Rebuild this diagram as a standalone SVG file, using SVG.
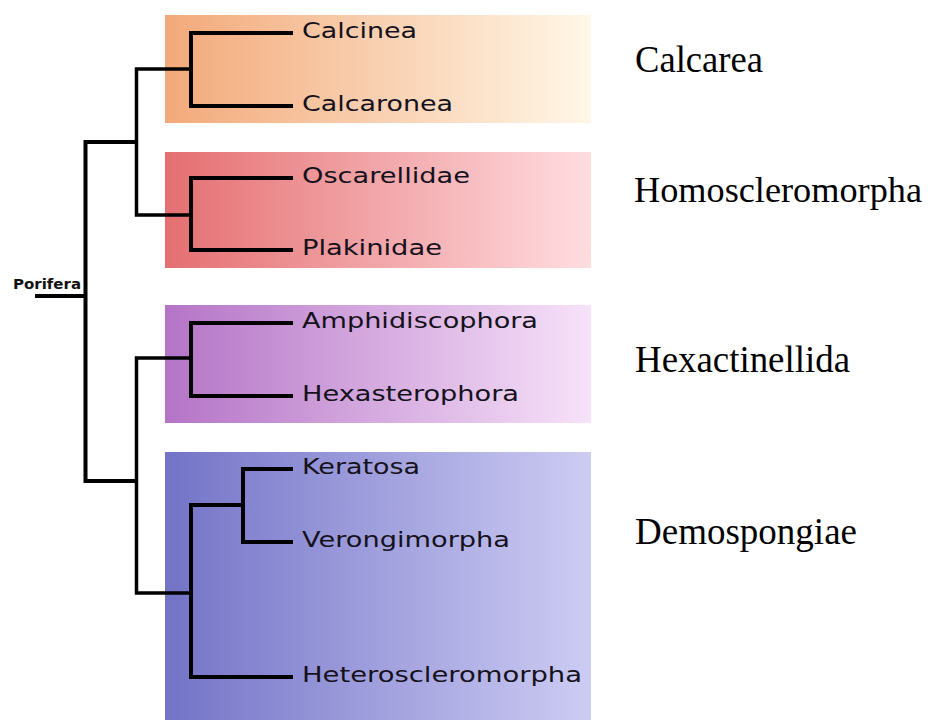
<svg xmlns="http://www.w3.org/2000/svg" width="932" height="720" viewBox="0 0 932 720">
<style>
.tree{fill:none;stroke:#000;stroke-width:4;stroke-linejoin:miter;stroke-linecap:butt}
.thin{stroke-width:3.5}
.leaf{font-family:"DejaVu Sans",sans-serif;font-size:21px;fill:#15121c}
.group{font-family:"Liberation Serif","Times New Roman",serif;font-size:38px;fill:#000}
.root{font-family:"DejaVu Sans",sans-serif;font-size:14px;font-weight:bold;fill:#111}
</style>
<defs>
<linearGradient id="gCal" x1="0" y1="0" x2="1" y2="0"><stop offset="0" stop-color="#f2a97a"/><stop offset="1" stop-color="#fff7e8"/></linearGradient>
<linearGradient id="gHom" x1="0" y1="0" x2="1" y2="0"><stop offset="0" stop-color="#e46f71"/><stop offset="1" stop-color="#ffdde1"/></linearGradient>
<linearGradient id="gHex" x1="0" y1="0" x2="1" y2="0"><stop offset="0" stop-color="#b474c6"/><stop offset="1" stop-color="#f7e2f9"/></linearGradient>
<linearGradient id="gDem" x1="0" y1="0" x2="1" y2="0"><stop offset="0" stop-color="#7373c7"/><stop offset="1" stop-color="#cdccf3"/></linearGradient>
</defs>
<rect width="932" height="720" fill="#fff"/>
<g id="calcarea">
<rect x="165" y="15" width="426" height="108" fill="url(#gCal)"/>
<text class="group" x="635" y="72" textLength="128" lengthAdjust="spacingAndGlyphs">Calcarea</text>
</g>
<g id="homoscleromorpha">
<rect x="165" y="152" width="426" height="116" fill="url(#gHom)"/>
<text class="group" x="634" y="202" style="font-size:36px" textLength="288" lengthAdjust="spacingAndGlyphs">Homoscleromorpha</text>
</g>
<g id="hexactinellida">
<rect x="165" y="305" width="426" height="118" fill="url(#gHex)"/>
<text class="group" x="635" y="372" textLength="215" lengthAdjust="spacingAndGlyphs">Hexactinellida</text>
</g>
<g id="demospongiae">
<rect x="165" y="452" width="426" height="268" fill="url(#gDem)"/>
<text class="group" x="635" y="544" textLength="222" lengthAdjust="spacingAndGlyphs">Demospongiae</text>
</g>
<g id="connectors">
<path class="tree" d="M35,296 H85.5"/>
<path class="tree" d="M136.5,142 H85.5 V481 H136.5"/>
<path class="tree thin" d="M191,69 H136.5 V215 H191"/>
<path class="tree thin" d="M191,358 H136.5 V593 H191"/>
<path class="tree" d="M293,33 H191 V106 H293"/>
<path class="tree" d="M293,178 H191 V250 H293"/>
<path class="tree" d="M293,323 H191 V396 H293"/>
<path class="tree" d="M243,505 H191 V677 H293"/>
<path class="tree" d="M293,469 H243 V542 H293"/>
</g>
<g id="porifera"><text class="root" x="13" y="289" textLength="68" lengthAdjust="spacingAndGlyphs">Porifera</text></g>
<g id="calcinea"><text class="leaf" x="302" y="38" textLength="115" lengthAdjust="spacingAndGlyphs">Calcinea</text></g>
<g id="calcaronea"><text class="leaf" x="302" y="111" textLength="151" lengthAdjust="spacingAndGlyphs">Calcaronea</text></g>
<g id="oscarellidae"><text class="leaf" x="302" y="183" textLength="168" lengthAdjust="spacingAndGlyphs">Oscarellidae</text></g>
<g id="plakinidae"><text class="leaf" x="302" y="255" textLength="140" lengthAdjust="spacingAndGlyphs">Plakinidae</text></g>
<g id="amphidiscophora"><text class="leaf" x="302" y="328" textLength="236" lengthAdjust="spacingAndGlyphs">Amphidiscophora</text></g>
<g id="hexasterophora"><text class="leaf" x="302" y="401" textLength="217" lengthAdjust="spacingAndGlyphs">Hexasterophora</text></g>
<g id="keratosa"><text class="leaf" x="302" y="474" textLength="118" lengthAdjust="spacingAndGlyphs">Keratosa</text></g>
<g id="verongimorpha"><text class="leaf" x="302" y="547" textLength="208" lengthAdjust="spacingAndGlyphs">Verongimorpha</text></g>
<g id="heteroscleromorpha"><text class="leaf" x="302" y="682" textLength="280" lengthAdjust="spacingAndGlyphs">Heteroscleromorpha</text></g>
</svg>
